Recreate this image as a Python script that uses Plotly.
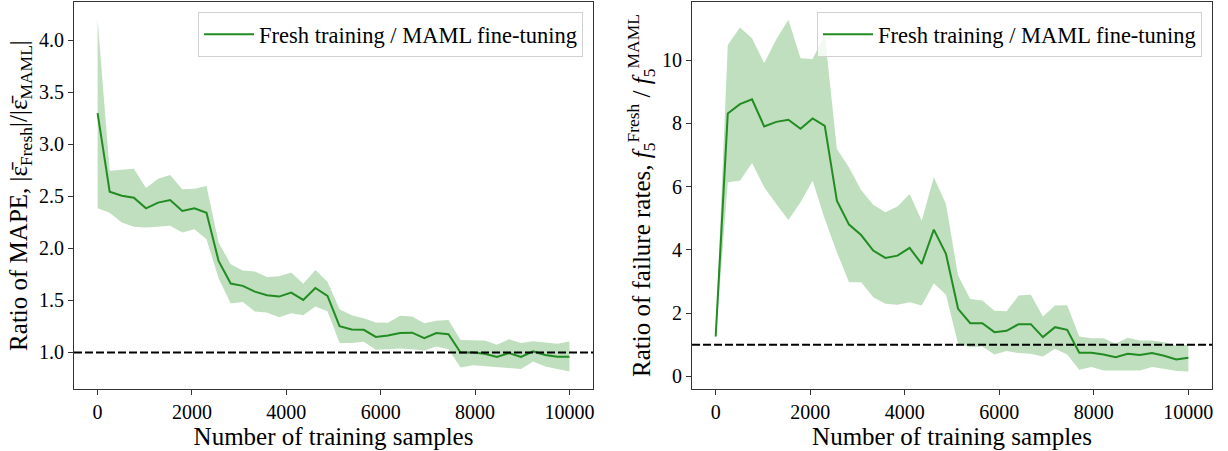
import plotly.graph_objects as go

samples = [0, 256, 513, 769, 1026, 1282, 1538, 1795, 2051, 2308, 2564, 2821, 3077, 3333,
           3590, 3846, 4103, 4359, 4615, 4872, 5128, 5385, 5641, 5897, 6154, 6410, 6667,
           6923, 7179, 7436, 7692, 7949, 8205, 8462, 8718, 8974, 9231, 9487, 9744, 10000]

mape_mean = [3.30, 2.545, 2.507, 2.487, 2.385, 2.44, 2.465, 2.36, 2.385, 2.343,
             1.88, 1.662, 1.64, 1.585, 1.55, 1.537, 1.576, 1.505, 1.62, 1.544,
             1.253, 1.22, 1.218, 1.15, 1.163, 1.186, 1.19, 1.138, 1.186, 1.176,
             1.0, 1.0, 0.987, 0.958, 0.994, 0.958, 1.01, 0.975, 0.958, 0.958]
mape_upper = [4.199, 2.747, 2.756, 2.766, 2.58, 2.67, 2.705, 2.568, 2.574, 2.6,
              2.056, 1.848, 1.787, 1.777, 1.726, 1.733, 1.768, 1.66, 1.793, 1.68,
              1.416, 1.358, 1.33, 1.288, 1.285, 1.352, 1.345, 1.282, 1.304, 1.313,
              1.12, 1.12, 1.115, 1.074, 1.128, 1.09, 1.109, 1.096, 1.083, 1.106]
mape_lower = [2.385, 2.343, 2.25, 2.209, 2.2, 2.209, 2.219, 2.152, 2.184, 2.088,
              1.713, 1.47, 1.486, 1.393, 1.384, 1.339, 1.377, 1.358, 1.441, 1.397,
              1.09, 1.09, 1.102, 1.026, 1.032, 1.038, 1.032, 1.019, 1.058, 1.032,
              0.856, 0.878, 0.866, 0.859, 0.85, 0.84, 0.914, 0.866, 0.84, 0.818]

fail_mean = [1.263, 8.316, 8.61, 8.76, 7.905, 8.05, 8.116, 7.83, 8.158, 7.926,
             5.558, 4.8, 4.47, 3.98, 3.747, 3.82, 4.063, 3.558, 4.642, 3.874,
             2.137, 1.684, 1.684, 1.4, 1.442, 1.653, 1.653, 1.242, 1.558, 1.474,
             0.747, 0.747, 0.695, 0.61, 0.716, 0.674, 0.737, 0.653, 0.537, 0.589]
fail_upper = [1.35, 10.48, 11.03, 10.69, 9.905, 10.66, 11.28, 10.06, 10.04, 10.82,
              7.19, 6.61, 5.895, 5.43, 5.19, 5.37, 5.77, 4.926, 6.295, 5.45,
              3.19, 2.45, 2.4, 2.08, 2.063, 2.558, 2.579, 1.895, 2.242, 2.253,
              1.263, 1.21, 1.21, 1.032, 1.221, 1.137, 1.137, 1.084, 0.968, 1.0]
fail_lower = [1.19, 6.137, 6.19, 6.747, 5.979, 5.453, 4.947, 5.505, 6.19, 4.979,
              3.926, 2.979, 2.979, 2.505, 2.295, 2.263, 2.347, 2.242, 2.947, 2.579,
              1.032, 0.926, 0.947, 0.695, 0.8, 0.737, 0.716, 0.632, 0.874, 0.695,
              0.21, 0.295, 0.189, 0.21, 0.189, 0.189, 0.295, 0.242, 0.168, 0.158]

x_ticks = [0, 2000, 4000, 6000, 8000, 10000]
mape_ticks = [1.0, 1.5, 2.0, 2.5, 3.0, 3.5, 4.0]
fail_ticks = [0, 2, 4, 6, 8, 10]
series_name = "Fresh training / MAML fine-tuning"

FONT = "Liberation Serif"
LINE = "rgb(34,139,34)"
FILL = "rgba(0,128,0,0.25)"

fig = go.Figure()

def add_panel(xa, ya, mean, upper, lower, legend):
    fig.add_trace(go.Scatter(
        x=samples + samples[::-1], y=upper + lower[::-1],
        fill="toself", fillcolor=FILL, line=dict(width=0),
        mode="lines", hoverinfo="skip", showlegend=False,
        xaxis=xa, yaxis=ya))
    fig.add_trace(go.Scatter(
        x=samples, y=mean, mode="lines", name=series_name,
        line=dict(color=LINE, width=2), xaxis=xa, yaxis=ya, legend=legend))

add_panel("x", "y", mape_mean, mape_upper, mape_lower, "legend")
add_panel("x2", "y2", fail_mean, fail_upper, fail_lower, "legend2")

for xref, yref in (("x domain", "y"), ("x2 domain", "y2")):
    fig.add_shape(type="line", xref=xref, yref=yref, x0=0, x1=1, y0=1, y1=1,
                  line=dict(color="black", width=2, dash="8px,3px"))

axis_common = dict(showgrid=False, zeroline=False, showline=True, linecolor="#333",
                   linewidth=1.2, mirror=True, ticks="outside", ticklen=5,
                   tickwidth=1, tickcolor="#333", automargin=False,
                   tickfont=dict(family=FONT, size=20, color="black"))

TITLE_SIZE = 25
x_title = dict(text="Number of training samples", font=dict(size=TITLE_SIZE), standoff=2)

legend_common = dict(y=0.974, xanchor="right", yanchor="top",
                     bgcolor="rgba(255,255,255,0.8)", bordercolor="#d0d0d0", borderwidth=1,
                     font=dict(family=FONT, size=22.5), itemwidth=50)

fig.update_layout(
    width=1228, height=451,
    margin=dict(l=74, r=16, t=2, b=62),
    plot_bgcolor="white", paper_bgcolor="white",
    font=dict(family=FONT, size=20, color="black"),
    xaxis=dict(domain=[0, 0.4561], range=[-500, 10500], tickvals=x_ticks,
               ticktext=[str(v) for v in x_ticks], title=x_title, **axis_common),
    xaxis2=dict(domain=[0.5431, 1], range=[-500, 10500], tickvals=x_ticks, anchor="y2",
                ticktext=[str(v) for v in x_ticks], title=x_title, **axis_common),
    yaxis=dict(range=[0.649, 4.368], tickvals=mape_ticks, ticktext=[f"{v:.1f}" for v in mape_ticks],
               title=dict(text="Ratio of MAPE, |ε̄<sub>Fresh</sub>|/|ε̄<sub>MAML</sub>|",
                          font=dict(size=TITLE_SIZE), standoff=4),
               **axis_common),
    yaxis2=dict(anchor="x2", range=[-0.398, 11.84], tickvals=fail_ticks,
                ticktext=[str(v) for v in fail_ticks],
                title=dict(text="Ratio of failure rates, <i>f</i><sub>5</sub><sup>Fresh</sup> / <i>f</i><sub>5</sub><sup>MAML</sup>",
                           font=dict(size=TITLE_SIZE), standoff=4),
                **axis_common),
    legend=dict(x=0.4473, **legend_common),
    legend2=dict(x=0.9912, **legend_common),
)

fig.write_html("out.html", config={"displayModeBar": False},
               post_script="document.body.style.margin='0';")
